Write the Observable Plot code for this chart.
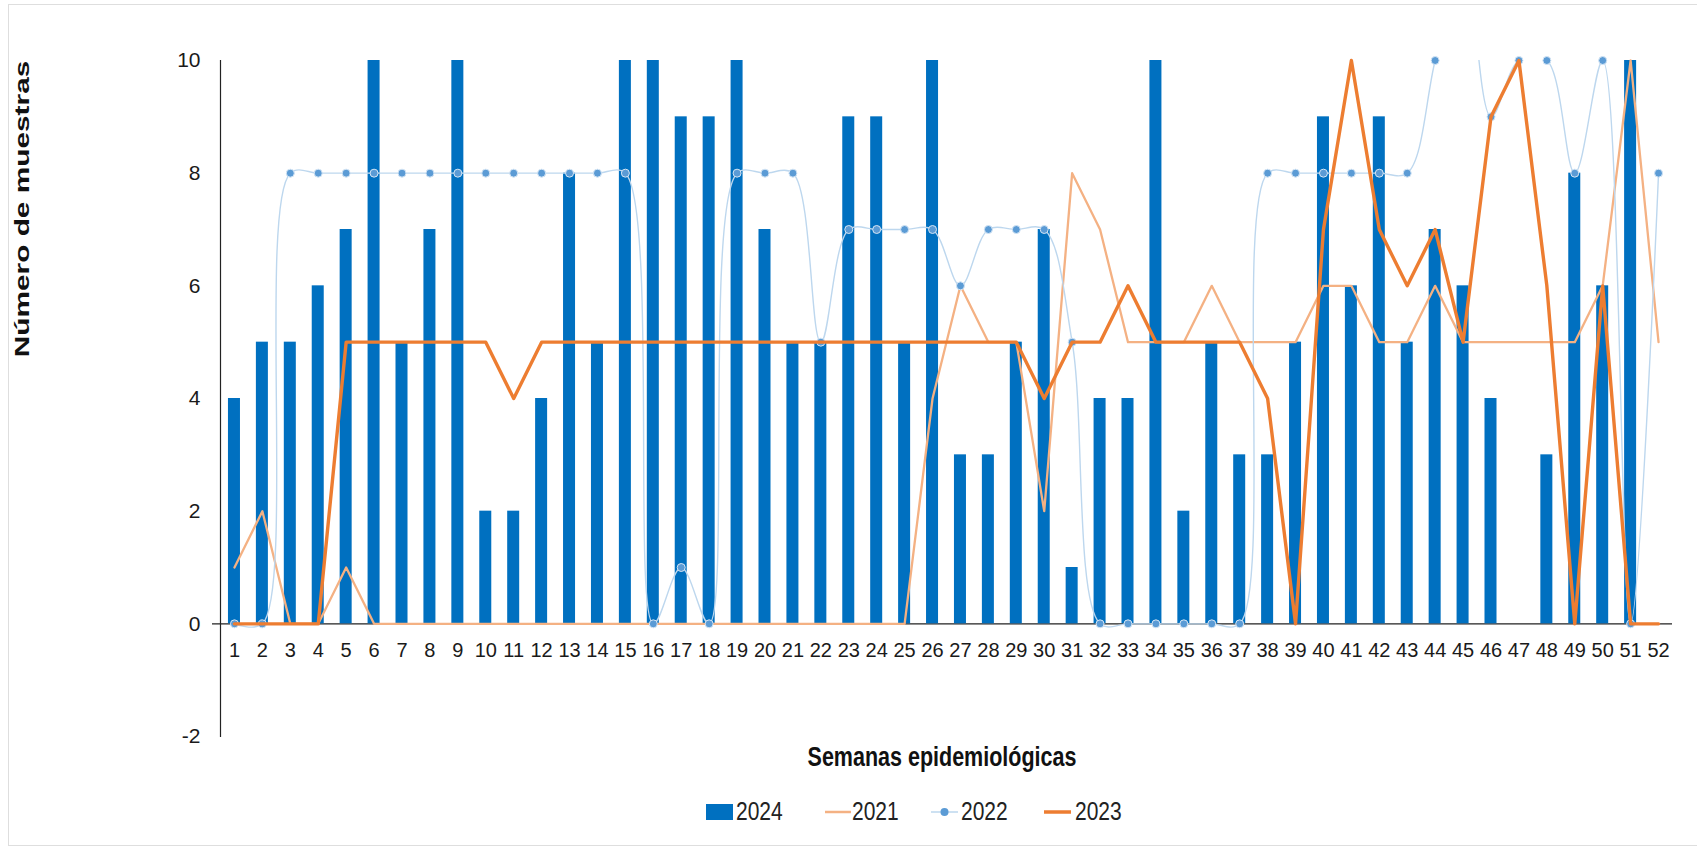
<!DOCTYPE html>
<html><head><meta charset="utf-8">
<script src="https://cdn.jsdelivr.net/npm/d3@7"></script>
<script src="https://cdn.jsdelivr.net/npm/@observablehq/plot@0.6"></script>
<style>
body{margin:0;background:#fff;font-family:"Liberation Sans",Arial,sans-serif;}
#wrap{position:relative;width:1697px;height:852px;overflow:hidden;background:#fff;}
#border{position:absolute;left:8px;top:4px;width:1720px;height:842px;border:1px solid #dedede;box-sizing:border-box;}
#chart{position:absolute;left:0;top:0;}
.ytitle{position:absolute;left:22px;top:209px;font-weight:bold;font-size:21px;color:#111;white-space:nowrap;transform:translate(-50%,-50%) rotate(-90deg) scaleX(1.42);}
.xtitle{position:absolute;left:942px;top:758px;font-weight:bold;font-size:21.5px;color:#111;white-space:nowrap;transform:translate(-50%,-50%) scaleY(1.25);}
.leg{position:absolute;top:812px;height:0;}
.leg .sw{position:absolute;top:0;transform:translateY(-50%);}
.leg .tx{position:absolute;top:0;font-size:21px;color:#222;white-space:nowrap;transform:translateY(-50%) scaleY(1.2);line-height:24px;}
</style>
</head><body>
<div id="wrap">
  <div id="border"></div>
  <div id="chart"></div>
  <div class="ytitle">Número de muestras</div>
  <div class="xtitle">Semanas epidemiológicas</div>
  <div id="legend"></div>
</div>
<script>
const weeks = [1,2,3,4,5,6,7,8,9,10,11,12,13,14,15,16,17,18,19,20,21,22,23,24,25,26,27,28,29,30,31,32,33,34,35,36,37,38,39,40,41,42,43,44,45,46,47,48,49,50,51,52];
const yTicks = [-2,0,2,4,6,8,10];
const seriesNames = ["2024","2021","2022","2023"];
const v2024 = [4,5,5,6,7,10,5,7,10,2,2,4,8,5,10,10,9,9,10,7,5,5,9,9,5,10,3,3,5,7,1,4,4,10,2,5,3,3,5,9,6,9,5,7,6,4,null,3,8,6,10,null];
const v2021 = [1,2,0,0,1,0,0,0,0,0,0,0,0,0,0,0,0,0,0,0,0,0,0,0,0,4,6,5,5,2,8,7,5,5,5,6,5,5,5,6,6,5,5,6,5,5,5,5,5,6,10,5];
const v2022 = [0,0,8,8,8,8,8,8,8,8,8,8,8,8,8,0,1,0,8,8,8,5,7,7,7,7,6,7,7,7,5,0,0,0,0,0,0,8,8,8,8,8,8,10,12,9,10,10,8,10,0,8];
const v2023 = [0,0,0,0,5,5,5,5,5,5,4,5,5,5,5,5,5,5,5,5,5,5,5,5,5,5,5,5,5,4,5,5,6,5,5,5,5,4,0,7,10,7,6,7,5,9,10,6,0,6,0,0];

const colors = {"2024":"#0070c0","2021":"#f4b183","2022":"#bdd7ee","2022m":"#5b9bd5","2023":"#ed7d31"};

const d24 = weeks.map((w,i)=>({week:w, v:v2024[i]}));
const d21 = weeks.map((w,i)=>({week:w, v:v2021[i]}));
const d22 = weeks.map((w,i)=>({week:w, v:v2022[i]}));
const d23 = weeks.map((w,i)=>({week:w, v:v2023[i]}));

const chart = Plot.plot({
  width:1697, height:750,
  marginTop:60, marginBottom:14, marginLeft:220, marginRight:25,
  style:{fontFamily:"Liberation Sans, Arial, sans-serif", fontSize:"20px", color:"#1a1a1a", background:"transparent", overflow:"visible"},
  x:{type:"band", domain:weeks, paddingInner:0.57, paddingOuter:0.285, axis:null},
  y:{domain:[-2,10], axis:null},
  marks:[
    Plot.axisY(yTicks, {tickSize:0, tickPadding:20, fontSize:21, label:null, tickFormat:d=>String(d)}),
    Plot.frame({anchor:"left", stroke:"#222", strokeWidth:1.2}),
    Plot.ruleY([0], {stroke:"#222", strokeWidth:1.4, insetLeft:-8}),
    Plot.barY(d24.filter(d=>d.v!=null), {x:"week", y:"v", fill:colors["2024"]}),
    Plot.line(d21, {x:"week", y:"v", stroke:colors["2021"], strokeWidth:2.3}),
    Plot.line(d22, {x:"week", y:"v", stroke:colors["2022"], strokeWidth:1.4, curve:"catmull-rom", clip:true}),
    Plot.dot(d22.filter(d=>d.v<=10), {x:"week", y:"v", r:4, fill:colors["2022m"], stroke:"#d6e6f5", strokeWidth:1}),
    Plot.line(d23, {x:"week", y:"v", stroke:colors["2023"], strokeWidth:3.4}),
    Plot.text(weeks, {x:d=>d, y:0, dy:27, text:d=>String(d), fontSize:20, fill:"#1a1a1a"})
  ]
});
document.getElementById("chart").appendChild(chart);

// legend
const legendPos = [
  {name:seriesNames[0], sx:706, tx:736, kind:"rect"},
  {name:seriesNames[1], sx:825, tx:852, kind:"line"},
  {name:seriesNames[2], sx:931, tx:961, kind:"marker"},
  {name:seriesNames[3], sx:1044, tx:1075, kind:"thick"}
];
const leg = document.getElementById("legend");
for (const it of legendPos) {
  const g = document.createElement("div");
  g.className = "leg";
  g.style.left = "0px";
  let sw;
  if (it.kind === "rect") {
    sw = `<svg class="sw" style="left:${it.sx}px" width="27" height="16"><rect width="27" height="16" fill="${colors[it.name]}"/></svg>`;
  } else if (it.kind === "line") {
    sw = `<svg class="sw" style="left:${it.sx}px" width="26" height="6"><line x1="0" x2="26" y1="3" y2="3" stroke="${colors[it.name]}" stroke-width="2.5"/></svg>`;
  } else if (it.kind === "marker") {
    sw = `<svg class="sw" style="left:${it.sx}px" width="27" height="10"><line x1="0" x2="27" y1="5" y2="5" stroke="${colors["2022"]}" stroke-width="1.5"/><circle cx="13.5" cy="5" r="4" fill="${colors["2022m"]}"/></svg>`;
  } else {
    sw = `<svg class="sw" style="left:${it.sx}px" width="27" height="6"><line x1="0" x2="27" y1="3" y2="3" stroke="${colors[it.name]}" stroke-width="3.5"/></svg>`;
  }
  g.innerHTML = sw + `<span class="tx" style="left:${it.tx}px">${it.name}</span>`;
  leg.appendChild(g);
}
</script>
</body></html>
